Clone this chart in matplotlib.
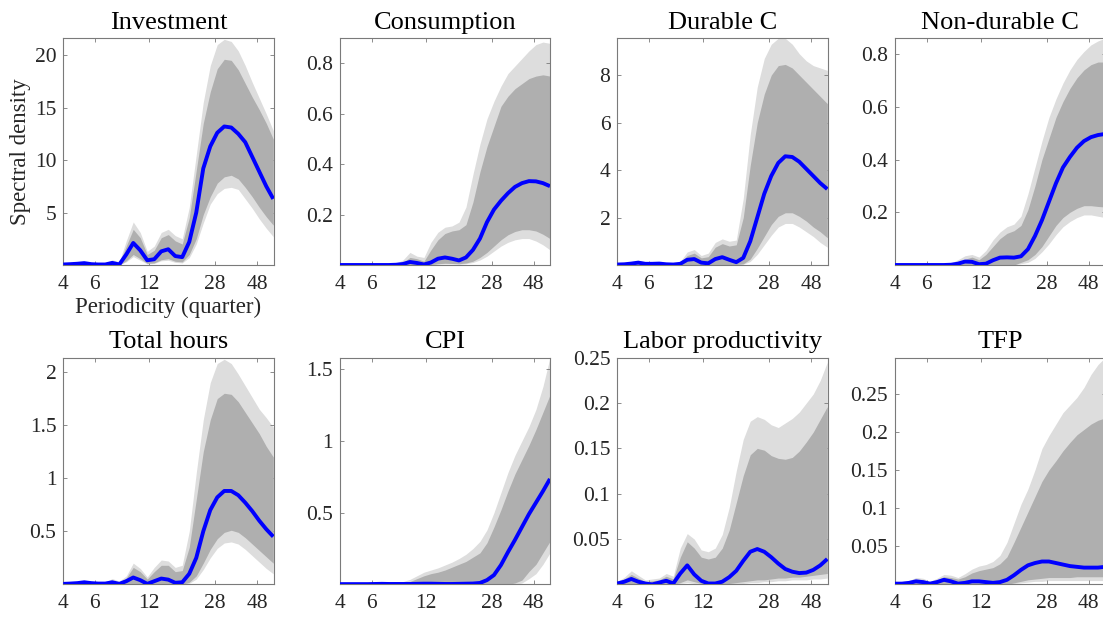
import matplotlib
matplotlib.use("Agg")
import matplotlib.pyplot as plt
from matplotlib.ticker import FixedLocator, NullLocator, FixedFormatter

# Periodicity grid (quarters)
period = [4.0, 4.38, 4.79, 5.23, 5.73, 6.26, 6.85, 7.49, 8.2, 8.97, 9.81, 10.73,
          11.74, 12.84, 14.05, 15.37, 16.81, 18.39, 20.12, 22.01, 24.08, 26.34,
          28.81, 31.52, 34.48, 37.72, 41.26, 45.14, 49.38, 54.02, 59.09]

xtick_vals = [4, 6, 12, 28, 48]
xtick_labels = ["4", "6", "12", "28", "48"]

titles = ["Investment", "Consumption", "Durable C", "Non-durable C",
          "Total hours", "CPI", "Labor productivity", "TFP"]

# ---- Investment
inv_med = [0.05, 0.08, 0.12, 0.18, 0.08, 0.05, 0.05, 0.2, 0.05, 1.0, 2.1, 1.4, 0.45, 0.55, 1.3, 1.5,
           0.85, 0.75, 2.2, 5.0, 9.2, 11.3, 12.6, 13.2, 13.1, 12.5, 11.7, 10.3, 8.9, 7.5, 6.3]
inv_in_lo = [0, 0, 0, 0, 0, 0, 0, 0, 0, 0.4, 1.0, 0.6, 0.15, 0.2, 0.5, 0.6,
             0.35, 0.3, 1.0, 2.5, 4.8, 6.5, 7.8, 8.4, 8.55, 8.2, 7.4, 6.5, 5.5, 4.6, 3.8]
inv_in_hi = [0.1, 0.12, 0.15, 0.25, 0.15, 0.1, 0.12, 0.35, 0.2, 1.8, 3.4, 2.6, 1.0, 1.4, 2.6, 2.9,
             2.3, 2.0, 4.5, 9.0, 13.5, 16.5, 18.7, 19.6, 19.5, 18.6, 17.3, 16.0, 14.8, 13.5, 12.0]
inv_out_lo = [0, 0, 0, 0, 0, 0, 0, 0, 0, 0.3, 0.8, 0.45, 0.1, 0.15, 0.4, 0.45,
              0.25, 0.2, 0.7, 2.0, 4.0, 5.8, 6.8, 7.3, 7.4, 7.2, 6.3, 5.4, 4.4, 3.5, 2.7]
inv_out_hi = [0.15, 0.18, 0.22, 0.35, 0.22, 0.15, 0.18, 0.5, 0.3, 2.3, 4.1, 3.1, 1.3, 1.8, 3.1, 3.4,
              2.8, 2.5, 5.5, 10.5, 15.5, 19.0, 21.0, 21.5, 21.3, 20.4, 19.0, 17.4, 15.9, 14.4, 12.8]

# ---- Consumption
con_med = [0, 0, 0, 0, 0, 0, 0, 0, 0.001, 0.004, 0.012, 0.008, 0.002, 0.01, 0.025, 0.03,
           0.025, 0.018, 0.03, 0.06, 0.105, 0.17, 0.22, 0.255, 0.285, 0.31, 0.325, 0.333, 0.332, 0.325, 0.313]
con_in_lo = [0, 0, 0, 0, 0, 0, 0, 0, 0, 0, 0.002, 0.001, 0, 0.002, 0.005, 0.007,
             0.006, 0.005, 0.008, 0.015, 0.03, 0.05, 0.075, 0.1, 0.12, 0.133, 0.14, 0.14, 0.135, 0.122, 0.105]
con_in_hi = [0, 0, 0, 0, 0, 0, 0.001, 0.002, 0.004, 0.01, 0.03, 0.025, 0.015, 0.06, 0.1, 0.125,
             0.135, 0.14, 0.16, 0.25, 0.37, 0.47, 0.55, 0.63, 0.67, 0.7, 0.72, 0.74, 0.75, 0.755, 0.75]
con_out_lo = [0, 0, 0, 0, 0, 0, 0, 0, 0, 0, 0.001, 0, 0, 0.001, 0.003, 0.004,
              0.004, 0.003, 0.005, 0.01, 0.02, 0.035, 0.055, 0.075, 0.09, 0.1, 0.105, 0.105, 0.095, 0.08, 0.06]
con_out_hi = [0.001, 0.001, 0.001, 0.001, 0.001, 0.002, 0.003, 0.005, 0.008, 0.02, 0.05, 0.035, 0.03, 0.09, 0.13, 0.15,
              0.155, 0.17, 0.23, 0.36, 0.48, 0.58, 0.65, 0.71, 0.76, 0.79, 0.82, 0.85, 0.875, 0.885, 0.88]

# ---- Durable consumption
dur_med = [0.02, 0.03, 0.06, 0.1, 0.05, 0.05, 0.06, 0.03, 0.02, 0.05, 0.22, 0.25, 0.1, 0.07, 0.25, 0.33,
           0.22, 0.12, 0.3, 1.0, 2.0, 3.0, 3.75, 4.3, 4.58, 4.55, 4.35, 4.05, 3.75, 3.45, 3.2]
dur_in_lo = [0, 0, 0, 0, 0, 0, 0, 0, 0, 0, 0, 0, 0, 0, 0, 0,
             0, 0.02, 0.05, 0.25, 0.7, 1.2, 1.7, 2.05, 2.2, 2.2, 2.05, 1.85, 1.6, 1.4, 1.15]
dur_in_hi = [0.03, 0.05, 0.08, 0.15, 0.1, 0.07, 0.1, 0.06, 0.04, 0.1, 0.4, 0.5, 0.3, 0.35, 0.75, 0.9,
             0.8, 0.85, 2.0, 4.2, 6.0, 7.2, 8.0, 8.4, 8.45, 8.3, 8.0, 7.7, 7.4, 7.1, 6.8]
dur_out_lo = [0, 0, 0, 0, 0, 0, 0, 0, 0, 0, 0, 0, 0, 0, 0, 0,
              0, 0.01, 0.03, 0.15, 0.45, 0.85, 1.25, 1.6, 1.75, 1.75, 1.6, 1.4, 1.2, 0.95, 0.75]
dur_out_hi = [0.04, 0.06, 0.1, 0.2, 0.13, 0.09, 0.13, 0.08, 0.06, 0.15, 0.55, 0.65, 0.4, 0.5, 0.95, 1.1,
              1.0, 1.05, 2.8, 5.5, 7.5, 8.7, 9.3, 9.55, 9.55, 9.3, 8.9, 8.6, 8.4, 8.3, 8.2]

# ---- Non-durable consumption
ndc_med = [0, 0, 0, 0, 0, 0, 0, 0, 0.001, 0.005, 0.013, 0.012, 0.003, 0.005, 0.018, 0.028,
           0.029, 0.028, 0.033, 0.06, 0.11, 0.17, 0.24, 0.31, 0.37, 0.41, 0.445, 0.47, 0.485, 0.493, 0.497]
ndc_in_lo = [0, 0, 0, 0, 0, 0, 0, 0, 0, 0, 0, 0, 0, 0, 0, 0,
             0, 0, 0.01, 0.02, 0.04, 0.07, 0.11, 0.15, 0.18, 0.2, 0.215, 0.225, 0.225, 0.222, 0.22]
ndc_in_hi = [0, 0, 0, 0, 0, 0, 0.001, 0.002, 0.004, 0.01, 0.022, 0.03, 0.02, 0.04, 0.07, 0.1,
             0.12, 0.13, 0.15, 0.21, 0.3, 0.4, 0.48, 0.56, 0.62, 0.67, 0.71, 0.74, 0.76, 0.77, 0.77]
ndc_out_lo = [0, 0, 0, 0, 0, 0, 0, 0, 0, 0, 0, 0, 0, 0, 0, 0,
              0, 0, 0.005, 0.01, 0.025, 0.05, 0.08, 0.115, 0.145, 0.165, 0.18, 0.19, 0.19, 0.185, 0.18]
ndc_out_hi = [0.001, 0.001, 0.001, 0.001, 0.001, 0.002, 0.003, 0.005, 0.008, 0.02, 0.035, 0.04, 0.03, 0.055, 0.095, 0.125,
              0.145, 0.155, 0.185, 0.27, 0.37, 0.47, 0.56, 0.63, 0.69, 0.74, 0.78, 0.81, 0.835, 0.85, 0.86]

# ---- Total hours
hrs_med = [0.005, 0.008, 0.012, 0.02, 0.012, 0.008, 0.008, 0.02, 0.005, 0.03, 0.065, 0.04, 0.005, 0.03, 0.055, 0.045,
           0.015, 0.02, 0.1, 0.25, 0.5, 0.7, 0.82, 0.88, 0.88, 0.84, 0.77, 0.69, 0.6, 0.52, 0.45]
hrs_in_lo = [0, 0, 0, 0, 0, 0, 0, 0, 0, 0, 0, 0, 0, 0, 0, 0,
             0, 0, 0.02, 0.08, 0.2, 0.33, 0.43, 0.49, 0.51, 0.49, 0.44, 0.38, 0.32, 0.26, 0.2]
hrs_in_hi = [0.008, 0.012, 0.018, 0.03, 0.02, 0.012, 0.015, 0.04, 0.02, 0.06, 0.16, 0.12, 0.05, 0.12, 0.18, 0.18,
             0.12, 0.13, 0.35, 0.8, 1.25, 1.55, 1.75, 1.8, 1.79, 1.72, 1.62, 1.52, 1.42, 1.3, 1.2]
hrs_out_lo = [0, 0, 0, 0, 0, 0, 0, 0, 0, 0, 0, 0, 0, 0, 0, 0,
              0, 0, 0.01, 0.05, 0.14, 0.25, 0.34, 0.39, 0.4, 0.38, 0.33, 0.27, 0.21, 0.15, 0.1]
hrs_out_hi = [0.01, 0.015, 0.022, 0.04, 0.025, 0.016, 0.02, 0.055, 0.03, 0.08, 0.2, 0.15, 0.07, 0.16, 0.23, 0.22,
              0.16, 0.18, 0.5, 1.05, 1.55, 1.9, 2.08, 2.12, 2.08, 1.98, 1.87, 1.76, 1.65, 1.57, 1.48]

# ---- CPI
cpi_med = [0.002, 0.002, 0.002, 0.002, 0.002, 0.003, 0.004, 0.003, 0.003, 0.003, 0.003, 0.004, 0.005, 0.005, 0.004, 0.003,
           0.003, 0.004, 0.005, 0.006, 0.01, 0.03, 0.065, 0.135, 0.225, 0.31, 0.4, 0.49, 0.57, 0.65, 0.735]
cpi_in_lo = [0, 0, 0, 0, 0, 0, 0, 0, 0, 0, 0, 0, 0, 0, 0, 0,
             0, 0, 0, 0, 0, 0, 0, 0, 0, 0.01, 0.03, 0.09, 0.14, 0.22, 0.3]
cpi_in_hi = [0, 0, 0, 0, 0, 0.001, 0.002, 0.003, 0.005, 0.01, 0.02, 0.04, 0.06, 0.075, 0.085, 0.1,
             0.12, 0.14, 0.16, 0.19, 0.22, 0.29, 0.4, 0.52, 0.65, 0.77, 0.87, 0.97, 1.08, 1.2, 1.32]
cpi_out_lo = [0, 0, 0, 0, 0, 0, 0, 0, 0, 0, 0, 0, 0, 0, 0, 0,
              0, 0, 0, 0, 0, 0, 0, 0, 0, 0, 0.01, 0.04, 0.075, 0.14, 0.22]
cpi_out_hi = [0.001, 0.001, 0.001, 0.001, 0.002, 0.003, 0.004, 0.006, 0.01, 0.02, 0.035, 0.06, 0.085, 0.1, 0.115, 0.135,
              0.155, 0.18, 0.21, 0.25, 0.3, 0.38, 0.5, 0.64, 0.78, 0.9, 1.0, 1.1, 1.22, 1.38, 1.58]

# ---- Labor productivity
lab_med = [0.001, 0.003, 0.006, 0.003, 0.001, 0.0, 0.002, 0.004, 0.001, 0.012, 0.021, 0.011, 0.004, 0.001, 0.001, 0.003,
           0.008, 0.015, 0.026, 0.036, 0.039, 0.036, 0.03, 0.023, 0.017, 0.014, 0.0125, 0.013, 0.016, 0.021, 0.028]
lab_in_lo = [0, 0, 0.001, 0, 0, 0, 0, 0.001, 0, 0.002, 0.005, 0.003, 0.001, 0, 0, 0,
             0.001, 0.002, 0.003, 0.004, 0.005, 0.005, 0.006, 0.007, 0.007, 0.008, 0.008, 0.009, 0.01, 0.011, 0.012]
lab_in_hi = [0.002, 0.006, 0.011, 0.007, 0.003, 0.004, 0.005, 0.009, 0.006, 0.03, 0.047, 0.04, 0.03, 0.028, 0.03, 0.04,
             0.06, 0.09, 0.12, 0.143, 0.15, 0.148, 0.142, 0.139, 0.138, 0.14, 0.147, 0.157, 0.168, 0.182, 0.196]
lab_out_lo = [0, 0, 0, 0, 0, 0, 0, 0, 0, 0.001, 0.002, 0.001, 0, 0, 0, 0,
              0, 0.001, 0.001, 0.002, 0.002, 0.003, 0.003, 0.004, 0.004, 0.005, 0.005, 0.005, 0.006, 0.006, 0.007]
lab_out_hi = [0.003, 0.008, 0.015, 0.01, 0.005, 0.006, 0.007, 0.012, 0.009, 0.04, 0.056, 0.05, 0.038, 0.036, 0.04, 0.055,
              0.085, 0.125, 0.16, 0.18, 0.185, 0.182, 0.176, 0.173, 0.178, 0.183, 0.19, 0.2, 0.21, 0.225, 0.245]

# ---- TFP
tfp_med = [0.001, 0.001, 0.002, 0.004, 0.003, 0.001, 0.003, 0.006, 0.004, 0.001, 0.002, 0.004, 0.004, 0.003, 0.002, 0.003,
           0.006, 0.012, 0.019, 0.025, 0.028, 0.03, 0.03, 0.028, 0.026, 0.024, 0.023, 0.022, 0.022, 0.022, 0.023]
tfp_in_lo = [0, 0, 0, 0, 0, 0, 0, 0, 0, 0, 0, 0, 0, 0, 0, 0,
             0, 0.002, 0.004, 0.006, 0.007, 0.008, 0.009, 0.009, 0.009, 0.009, 0.01, 0.01, 0.01, 0.01, 0.01]
tfp_in_hi = [0.002, 0.003, 0.004, 0.007, 0.006, 0.003, 0.006, 0.01, 0.009, 0.007, 0.01, 0.015, 0.018, 0.02, 0.022, 0.027,
             0.036, 0.055, 0.075, 0.095, 0.115, 0.135, 0.15, 0.162, 0.175, 0.186, 0.196, 0.203, 0.21, 0.215, 0.218]
tfp_out_lo = [0, 0, 0, 0, 0, 0, 0, 0, 0, 0, 0, 0, 0, 0, 0, 0,
              0, 0.001, 0.002, 0.003, 0.004, 0.004, 0.005, 0.005, 0.005, 0.005, 0.005, 0.005, 0.005, 0.005, 0.005]
tfp_out_hi = [0.003, 0.004, 0.005, 0.009, 0.008, 0.004, 0.008, 0.013, 0.012, 0.009, 0.014, 0.02, 0.024, 0.026, 0.03, 0.038,
              0.055, 0.08, 0.105, 0.125, 0.15, 0.178, 0.195, 0.21, 0.225, 0.235, 0.245, 0.258, 0.275, 0.288, 0.297]

yticks = [[5, 10, 15, 20], [0.2, 0.4, 0.6, 0.8], [2, 4, 6, 8], [0.2, 0.4, 0.6, 0.8],
          [0.5, 1, 1.5, 2], [0.5, 1, 1.5], [0.05, 0.1, 0.15, 0.2, 0.25], [0.05, 0.1, 0.15, 0.2, 0.25]]
ytops = [21.6, 0.9, 9.55, 0.86, 2.135, 1.58, 0.25, 0.297]

series = [
    (inv_med, inv_in_lo, inv_in_hi, inv_out_lo, inv_out_hi),
    (con_med, con_in_lo, con_in_hi, con_out_lo, con_out_hi),
    (dur_med, dur_in_lo, dur_in_hi, dur_out_lo, dur_out_hi),
    (ndc_med, ndc_in_lo, ndc_in_hi, ndc_out_lo, ndc_out_hi),
    (hrs_med, hrs_in_lo, hrs_in_hi, hrs_out_lo, hrs_out_hi),
    (cpi_med, cpi_in_lo, cpi_in_hi, cpi_out_lo, cpi_out_hi),
    (lab_med, lab_in_lo, lab_in_hi, lab_out_lo, lab_out_hi),
    (tfp_med, tfp_in_lo, tfp_in_hi, tfp_out_lo, tfp_out_hi),
]

plt.rcParams['font.family'] = ['Liberation Serif', 'DejaVu Serif']

W, H = 1103.0, 620.0
fig = plt.figure(figsize=(W / 100, H / 100), dpi=100)

col_left = [63.3, 340.0, 617.3, 895.0]
ax_w = 210.5
row_top = [38.3, 357.7]
ax_h = 226.7

LIGHT = '#dddddd'
DARK = '#afafaf'
SPINE = '#7a7a7a'
TICKTXT = '#262626'


def fmt(v):
    return '%g' % v


for i, (title, data) in enumerate(zip(titles, series)):
    r, c = divmod(i, 4)
    left = col_left[c] / W
    bottom = 1 - (row_top[r] + ax_h) / H
    ax = fig.add_axes([left, bottom, ax_w / W, ax_h / H])
    med, in_lo, in_hi, out_lo, out_hi = data
    ax.fill_between(period, out_lo, out_hi, color=LIGHT, lw=0, zorder=1)
    ax.fill_between(period, in_lo, in_hi, color=DARK, lw=0, zorder=2)
    ax.plot(period, med, color=(0, 0, 1), lw=2.8, solid_joinstyle='round',
            solid_capstyle='butt', zorder=3)
    ax.set_xscale('log')
    ax.set_xlim(4, 59.5)
    ax.set_ylim(0, ytops[i])
    ax.xaxis.set_major_locator(FixedLocator(xtick_vals))
    ax.xaxis.set_major_formatter(FixedFormatter(xtick_labels))
    ax.xaxis.set_minor_locator(NullLocator())
    ax.yaxis.set_major_locator(FixedLocator(yticks[i]))
    ax.yaxis.set_major_formatter(FixedFormatter([fmt(v) for v in yticks[i]]))
    ax.yaxis.set_minor_locator(NullLocator())
    ax.tick_params(axis='both', which='major', direction='in', length=3, width=0.6,
                   color=SPINE, labelsize=15.5, labelcolor=TICKTXT,
                   top=True, right=True)
    ax.tick_params(axis='x', pad=7)
    ax.tick_params(axis='y', pad=5)
    for sp in ax.spines.values():
        sp.set_color(SPINE)
        sp.set_linewidth(0.8)
    ax.set_title(title, fontsize=19, pad=7, color='black')
    if i == 0:
        ax.set_ylabel('Spectral density', fontsize=16.5, color=TICKTXT)
        ax.yaxis.set_label_coords(-0.155, 0.5)
        ax.set_xlabel('Periodicity (quarter)', fontsize=16.5, color=TICKTXT, labelpad=2)

fig.savefig('out.png', dpi=100)
